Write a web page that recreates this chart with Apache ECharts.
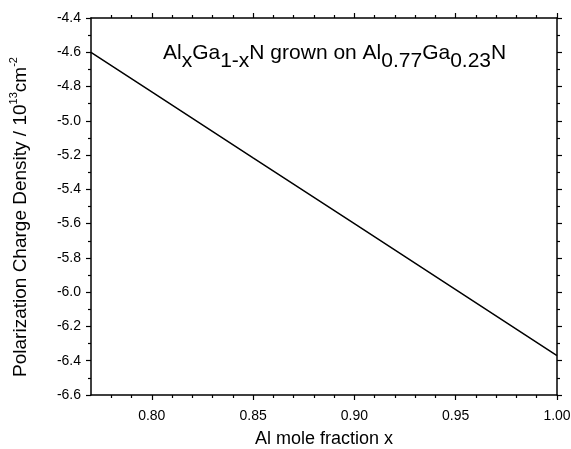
<!DOCTYPE html>
<html>
<head>
<meta charset="utf-8">
<script src="https://cdn.jsdelivr.net/npm/echarts@6/dist/echarts.min.js"></script>
<style>
  html, body { margin: 0; padding: 0; background: #fff; }
  #chart { width: 571px; height: 449px; }
</style>
</head>
<body>
<div id="chart"></div>
<script>
// Polarization charge density of AlxGa1-xN on a relaxed Al0.77Ga0.23N buffer
const alFraction = [0.77, 0.80, 0.85, 0.90, 0.95, 1.00];
const chargeDensity = [-4.600, -4.831, -5.216, -5.600, -5.985, -6.370];

// Axis ticks
const xMajorTicks = [0.80, 0.85, 0.90, 0.95, 1.00];
const xMinorTicks = [0.78, 0.79, 0.81, 0.82, 0.83, 0.84, 0.86, 0.87, 0.88, 0.89,
                     0.91, 0.92, 0.93, 0.94, 0.96, 0.97, 0.98, 0.99];
const yRange = [-6.6, -4.4];
const yStep = 0.2;

const FONT = 'Liberation Sans, Arial, sans-serif';
const INK = '#000';

const points = alFraction.map((x, i) => [x, chargeDensity[i]]);

function xAxisDef(position, ticks, tickLen, withLine, withLabels) {
  return {
    type: 'value',
    position: position,
    min: 0.77,
    max: 1.00,
    axisLine: { show: withLine, onZero: false, lineStyle: { color: INK, width: 1.5 } },
    axisTick: { show: true, inside: false, length: tickLen, customValues: ticks,
                lineStyle: { color: INK, width: 1.2 } },
    axisLabel: withLabels
      ? { show: true, customValues: ticks, margin: 14, color: INK, fontSize: 14, fontFamily: FONT,
          formatter: v => v.toFixed(2) }
      : { show: false },
    splitLine: { show: false }
  };
}

function yAxisDef(position, withLabels) {
  return {
    type: 'value',
    position: position,
    min: yRange[0],
    max: yRange[1],
    interval: yStep,
    axisLine: { show: true, onZero: false, lineStyle: { color: INK, width: 1.5 } },
    axisTick: { show: true, inside: false, length: 5, lineStyle: { color: INK, width: 1.2 } },
    minorTick: { show: true, splitNumber: 2, length: 3, lineStyle: { color: INK, width: 1.2 } },
    axisLabel: withLabels
      ? { show: true, margin: 10, color: INK, fontSize: 14, fontFamily: FONT,
          formatter: v => v.toFixed(1) }
      : { show: false },
    splitLine: { show: false },
    minorSplitLine: { show: false }
  };
}

const xBottom = xAxisDef('bottom', xMajorTicks, 5, true, true);
xBottom.name = 'Al mole fraction x';
xBottom.nameLocation = 'middle';
xBottom.nameGap = 35;
xBottom.nameTextStyle = { color: INK, fontSize: 18, fontFamily: FONT };

const chart = echarts.init(document.getElementById('chart'), null, { renderer: 'canvas' });
chart.setOption({
  animation: false,
  backgroundColor: '#fff',
  grid: { left: 91, right: 14, top: 18, bottom: 54, containLabel: false, outerBoundsMode: 'none' },
  xAxis: [
    xBottom,
    xAxisDef('bottom', xMinorTicks, 3, false, false),
    xAxisDef('top', xMajorTicks, 5, true, false),
    xAxisDef('top', xMinorTicks, 3, false, false)
  ],
  yAxis: [
    yAxisDef('left', true),
    yAxisDef('right', false)
  ],
  graphic: [
    {
      type: 'text',
      x: 163,
      y: 53,
      style: {
        text: '{m|Al}{s|x}{m|Ga}{s|1-x}{m|N grown on Al}{s|0.77}{m|Ga}{s|0.23}{m|N}',
        verticalAlign: 'middle',
        align: 'left',
        fill: INK,
        rich: {
          m: { fontSize: 21, fontFamily: FONT, fill: INK },
          s: { fontSize: 21, fontFamily: FONT, fill: INK, padding: [16, 0, 0, 0] }
        }
      }
    },
    {
      type: 'text',
      x: 21,
      y: 217,
      rotation: Math.PI / 2,
      style: {
        text: '{m|Polarization Charge Density / 10}{p|13}{m|cm}{p|-2}',
        align: 'center',
        verticalAlign: 'middle',
        fill: INK,
        rich: {
          m: { fontSize: 19, fontFamily: FONT, fill: INK },
          p: { fontSize: 11, fontFamily: FONT, fill: INK, padding: [0, 0, 14, 0] }
        }
      }
    }
  ],
  series: [
    {
      type: 'line',
      xAxisIndex: 0,
      yAxisIndex: 0,
      data: points,
      symbol: 'none',
      lineStyle: { color: INK, width: 1.5 },
      silent: true
    }
  ]
});
</script>
</body>
</html>
